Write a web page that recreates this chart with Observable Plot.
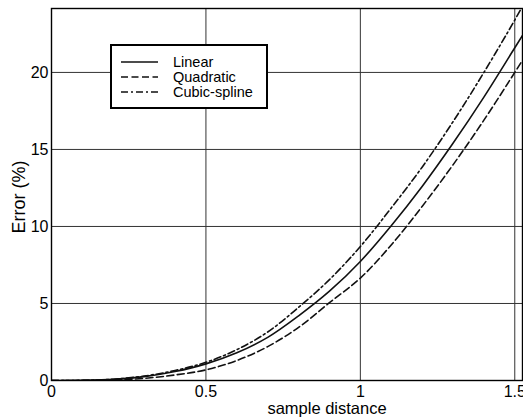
<!DOCTYPE html>
<html>
<head>
<meta charset="utf-8">
<script src="https://cdn.jsdelivr.net/npm/d3@7"></script>
<script src="https://cdn.jsdelivr.net/npm/@observablehq/plot@0.6"></script>
<style>
  body { margin: 0; background: #fff; }
  #chart { position: relative; width: 523px; height: 418px; }
</style>
</head>
<body>
<div id="chart"></div>
<script>
// Interpolation error versus sample distance for three reconstruction methods
const sampleDistance = [0, 0.1, 0.2, 0.3, 0.4, 0.5, 0.6, 0.7, 0.8, 0.9, 1.0, 1.1, 1.2, 1.3, 1.4, 1.5, 1.525];
const linearError    = [0, 0.01, 0.07, 0.25, 0.58, 1.08, 1.8, 2.8, 4.2, 5.8, 7.73, 10.05, 12.6, 15.4, 18.4, 21.6, 22.4];
const quadraticError = [0, 0.005, 0.04, 0.14, 0.36, 0.69, 1.3, 2.2, 3.45, 5.05, 6.65, 8.8, 11.3, 14.0, 16.9, 20.0, 20.8];
const cubicError     = [0, 0.01, 0.08, 0.29, 0.65, 1.18, 2.0, 3.15, 4.75, 6.55, 8.7, 11.2, 13.85, 16.8, 20.0, 23.4, 24.3];

const methods = ["Linear", "Quadratic", "Cubic-spline"];
const dashes = {"Linear": null, "Quadratic": "7,3.5", "Cubic-spline": "7,3,2,3"};

const xTicks = [0, 0.5, 1, 1.5];
const yTicks = [0, 5, 10, 15, 20];

const series = {
  "Linear": linearError,
  "Quadratic": quadraticError,
  "Cubic-spline": cubicError
};
const rowsFor = (m) => sampleDistance.map((x, i) => ({x, y: series[m][i], method: m}));

const font = "'Liberation Sans', Arial, Helvetica, sans-serif";

const chart = Plot.plot({
  width: 523,
  height: 418,
  marginLeft: 51,
  marginRight: 1,
  marginTop: 8,
  marginBottom: 38,
  style: {fontFamily: font, fontSize: "16px", background: "#fff", color: "#000"},
  x: {domain: [0, 1.525], label: null},
  y: {domain: [0, 24.15], label: null},
  marks: [
    Plot.gridX(xTicks, {stroke: "#333", strokeOpacity: 1, strokeWidth: 1}),
    Plot.gridY(yTicks, {stroke: "#333", strokeOpacity: 1, strokeWidth: 1}),
    Plot.axisX(xTicks, {tickSize: 0, tickPadding: 5, fontSize: 16, label: null, tickFormat: d => `${d}`}),
    Plot.axisY(yTicks, {tickSize: 0, tickPadding: 3, fontSize: 16, label: null, tickFormat: d => `${d}`}),
    ...methods.map(m => Plot.line(rowsFor(m), {
      x: "x", y: "y", stroke: "#111", strokeWidth: 1.6,
      strokeDasharray: dashes[m], curve: "catmull-rom", clip: true
    })),
    Plot.frame({stroke: "#000", strokeWidth: 1.4})
  ]
});

document.getElementById("chart").appendChild(chart);

const svg = d3.select(chart);

// Axis titles
svg.append("text")
  .attr("x", 327).attr("y", 414)
  .attr("text-anchor", "middle")
  .attr("font-family", font).attr("font-size", 16.5)
  .attr("fill", "#000")
  .text("sample distance");

svg.append("text")
  .attr("transform", "translate(25,197) rotate(-90)")
  .attr("text-anchor", "middle")
  .attr("font-family", font).attr("font-size", 18)
  .attr("fill", "#000")
  .text("Error (%)");

// Legend box
const lg = svg.append("g");
lg.append("rect")
  .attr("x", 111).attr("y", 45).attr("width", 156).attr("height", 63)
  .attr("fill", "#fff").attr("stroke", "#000").attr("stroke-width", 2);
methods.forEach((m, i) => {
  const y = 62 + i * 15;
  lg.append("line")
    .attr("x1", 121).attr("x2", 158).attr("y1", y).attr("y2", y)
    .attr("stroke", "#111").attr("stroke-width", 1.6)
    .attr("stroke-dasharray", dashes[m]);
  lg.append("text")
    .attr("x", 173).attr("y", y)
    .attr("dy", "0.35em")
    .attr("text-anchor", "start")
    .attr("font-family", font).attr("font-size", 14.5)
    .attr("fill", "#000")
    .text(m);
});
</script>
</body>
</html>
